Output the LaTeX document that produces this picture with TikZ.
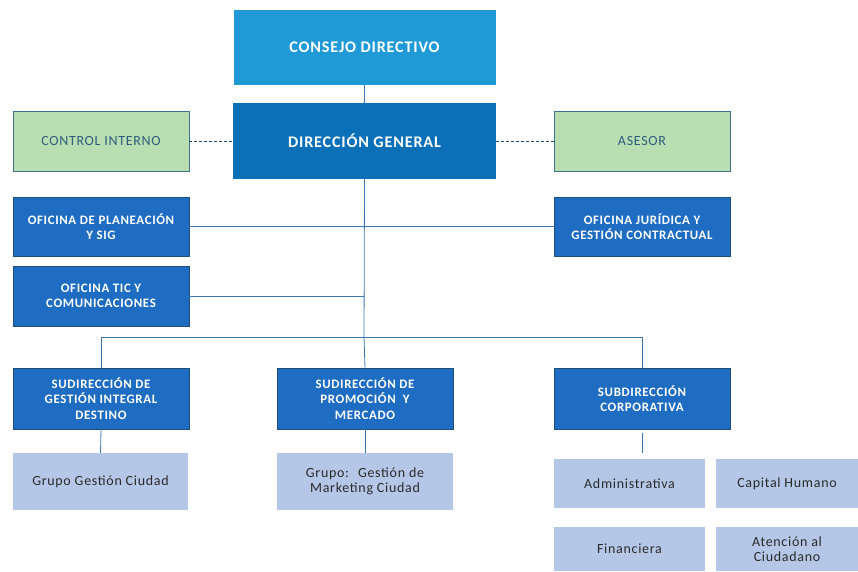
\documentclass[tikz,border=0pt]{standalone}
\usepackage{fontspec}
\setmainfont{Carlito}[LetterSpace=5]
\usepackage{tikz}

\definecolor{consejoblue}{HTML}{1F9AD6}
\definecolor{generalblue}{HTML}{0B70B8}
\definecolor{oficinablue}{HTML}{1F6DC2}
\definecolor{oficinaedge}{HTML}{1F4E79}
\definecolor{asesorgreen}{HTML}{B9DEB1}
\definecolor{asesoredge}{HTML}{3F6F8F}
\definecolor{asesortext}{HTML}{2E5E7E}
\definecolor{grupoblue}{HTML}{B4C7E7}
\definecolor{grupotext}{HTML}{2A2A2A}
\definecolor{lineblue}{HTML}{3A78B5}

\begin{document}
\begin{tikzpicture}[x=1pt, y=-1pt,
		box/.style={rectangle, inner sep=0pt, align=center},
		cabeza/.style={box, fill=#1, text=white, font=\fontsize{16.2}{19}\selectfont\bfseries},
		asesoria/.style={box, fill=asesorgreen, draw=asesoredge, line width=0.9pt,
			text=asesortext, font=\fontsize{14}{16}\selectfont,
			minimum width=176pt, minimum height=60pt},
		oficina/.style={box, fill=oficinablue, draw=oficinaedge, line width=0.6pt,
			text=white, font=\fontsize{12.9}{15.5}\selectfont\bfseries,
			minimum width=176pt, minimum height=60pt},
		grupo/.style={box, fill=grupoblue, text=grupotext,
			font=\fontsize{14}{15.5}\selectfont},
		enlace/.style={draw=lineblue, line width=0.8pt},
		asesor line/.style={draw=oficinaedge, line width=0.8pt, dash pattern=on 3pt off 2pt}
	]
	\useasboundingbox (0,0) rectangle (858,571);

	% cabeza
	\node[cabeza=consejoblue, minimum width=262pt, minimum height=75pt] (consejo) at (364.5,47.5) {CONSEJO DIRECTIVO};
	\node[cabeza=generalblue, minimum width=263pt, minimum height=76pt] (direccion) at (364.5,141) {DIRECCIÓN GENERAL};
	\node[asesoria] (control) at (101,141) {CONTROL INTERNO};
	\node[asesoria] (asesor) at (642,141) {ASESOR};

	% oficinas
	\node[oficina, minimum height=59pt] (planeacion) at (101,226.5) {OFICINA DE PLANEACIÓN\\Y SIG};
	\node[oficina] (tic) at (101,296) {OFICINA TIC Y\\COMUNICACIONES};
	\node[oficina, minimum height=59pt] (juridica) at (642,226.5) {OFICINA JURÍDICA Y\\GESTIÓN CONTRACTUAL};

	% subdirecciones
	\node[oficina, minimum height=61pt] (subgestion) at (101,398.5) {SUDIRECCIÓN DE\\GESTIÓN INTEGRAL\\DESTINO};
	\node[oficina, minimum height=61pt] (subpromocion) at (365,398.5) {SUDIRECCIÓN DE\\PROMOCIÓN~ Y\\MERCADO};
	\node[oficina, minimum height=61pt] (subcorporativa) at (642,398.5) {SUBDIRECCIÓN\\CORPORATIVA};

	% grupos
	\node[grupo, minimum width=175pt, minimum height=57pt] (gciudad) at (100.5,481.5) {Grupo Gestión Ciudad};
	\node[grupo, minimum width=176pt, minimum height=57pt] (gmarketing) at (365,481.5) {Grupo:~ Gestión de\\Marketing Ciudad};
	\node[grupo, minimum width=151pt, minimum height=49pt] (administrativa) at (629.5,483.5) {Administrativa};
	\node[grupo, minimum width=142pt, minimum height=49pt] (capital) at (787,483.5) {Capital Humano};
	\node[grupo, minimum width=151pt, minimum height=44pt] (financiera) at (629.5,549) {Financiera};
	\node[grupo, minimum width=142pt, minimum height=44pt] (atencion) at (787,549) {Atención al\\Ciudadano};

	\coordinate (bus) at (364,337);

	% conectores
	\draw[enlace] (consejo.south) -- (direccion.north);
	\draw[asesor line] (control.east) -- (direccion.west);
	\draw[asesor line] (direccion.east) -- (asesor.west);
	\draw[enlace] (direccion.south) -- (bus);
	\draw[enlace] (planeacion.east) -- (juridica.west);
	\draw[enlace] (tic.east) -- (tic.east -| bus);
	\draw[enlace] (subgestion.north) -- (subgestion.north |- bus) -- (subcorporativa.north |- bus) -- (subcorporativa.north);
	\draw[enlace] (bus) -- (subpromocion.north);
	\draw[enlace] (subgestion.south) -- (gciudad.north);
	\draw[enlace] (subpromocion.south) -- (gmarketing.north);
	\draw[enlace, shorten <=4pt, shorten >=6pt] (subcorporativa.south) -- (subcorporativa.south |- administrativa.north);
\end{tikzpicture}
\end{document}
